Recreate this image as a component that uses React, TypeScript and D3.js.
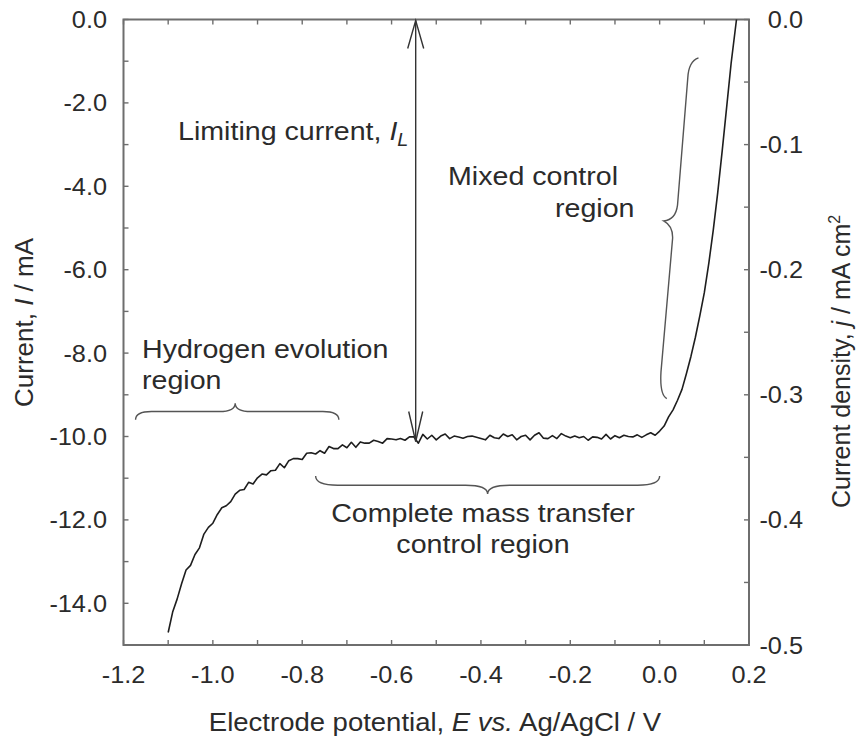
import React from "react";
import * as d3 from "d3";

// ---------- data ----------
const potential: number[] = [
  -1.10, -1.09, -1.08, -1.07, -1.06, -1.05, -1.04, -1.03, -1.02, -1.01,
  -1.00, -0.99, -0.98, -0.97, -0.96, -0.95, -0.94, -0.93, -0.92, -0.91,
  -0.90, -0.89, -0.88, -0.87, -0.86, -0.85, -0.84, -0.83, -0.82, -0.81,
  -0.80, -0.79, -0.78, -0.77, -0.76, -0.75, -0.74, -0.73, -0.72, -0.71,
  -0.70, -0.69, -0.68, -0.67, -0.66, -0.65, -0.64, -0.63, -0.62, -0.61,
  -0.60, -0.59, -0.58, -0.57, -0.56, -0.55, -0.54, -0.53, -0.52, -0.51,
  -0.50, -0.49, -0.48, -0.47, -0.46, -0.45, -0.44, -0.43, -0.42, -0.41,
  -0.40, -0.39, -0.38, -0.37, -0.36, -0.35, -0.34, -0.33, -0.32, -0.31,
  -0.30, -0.29, -0.28, -0.27, -0.26, -0.25, -0.24, -0.23, -0.22, -0.21,
  -0.20, -0.19, -0.18, -0.17, -0.16, -0.15, -0.14, -0.13, -0.12, -0.11,
  -0.10, -0.09, -0.08, -0.07, -0.06, -0.05, -0.04, -0.03, -0.02, -0.01,
  0.00, 0.01, 0.02, 0.03, 0.04, 0.05, 0.06, 0.07, 0.08, 0.09,
  0.10, 0.11, 0.12, 0.13, 0.14, 0.15, 0.16, 0.172,
];

const current: number[] = [
  -14.70, -14.24, -13.86, -13.55, -13.25, -13.06, -12.84, -12.62, -12.38, -12.20,
  -12.02, -11.90, -11.76, -11.64, -11.52, -11.44, -11.30, -11.24, -11.14, -11.09,
  -11.01, -10.96, -10.88, -10.83, -10.78, -10.70, -10.69, -10.60, -10.57, -10.51,
  -10.50, -10.43, -10.45, -10.38, -10.35, -10.34, -10.29, -10.31, -10.26, -10.24,
  -10.25, -10.19, -10.20, -10.16, -10.17, -10.12, -10.15, -10.10, -10.11, -10.08,
  -10.10, -10.05, -10.07, -10.03, -10.06, -10.02, -10.12, -10.01, -10.04, -10.00,
  -10.03, -10.01, -9.98, -10.02, -10.05, -10.00, -9.99, -10.03, -10.04, -9.98,
  -10.06, -10.02, -10.01, -10.05, -10.02, -9.99, -9.98, -10.02, -10.04, -10.01,
  -10.00, -10.03, -9.99, -9.97, -10.01, -10.04, -10.02, -9.99, -9.98, -10.01,
  -9.99, -10.02, -10.01, -10.05, -10.04, -10.02, -10.06, -10.03, -10.01, -10.04,
  -10.00, -9.99, -10.02, -10.01, -9.98, -10.00, -9.97, -9.98, -9.94, -9.95,
  -9.88, -9.72, -9.55, -9.36, -9.15, -8.85, -8.50, -8.08, -7.62, -7.10,
  -6.55, -5.85, -5.05, -4.15, -3.15, -2.10, -1.05, 0.0,
];

const jitter: number[] = [
  0.00, 0.03, -0.04, 0.02, 0.05, -0.03, 0.01, -0.05, 0.04, 0.02,
  -0.06, 0.03, 0.05, -0.02, -0.04, 0.06, 0.01, -0.03, 0.04, -0.05,
  0.02, 0.06, -0.04, 0.01, -0.03, 0.05, -0.06, 0.02, 0.04, -0.02,
  -0.05, 0.03, 0.06, -0.04, 0.01, -0.06, 0.05, 0.02, -0.03, 0.04,
  -0.02, 0.05, -0.06, 0.03, 0.01, -0.04, 0.06, -0.02, -0.05, 0.03,
  0.04, -0.03, 0.02, -0.06, 0.05, 0.01, -0.04, 0.06, -0.02, 0.03,
  -0.05, 0.02, 0.04, -0.03, 0.06, -0.01, -0.05, 0.03, 0.05, -0.04,
  0.01, -0.06, 0.04, 0.02, -0.03, 0.05, -0.02, 0.06, -0.04, 0.01,
  0.03, -0.05, 0.02, 0.06, -0.03, -0.01, 0.04, -0.06, 0.05, 0.02,
  -0.04, 0.03, -0.02, 0.05, -0.05, 0.01, 0.04, -0.03, 0.06, -0.02,
  0.02, -0.04, 0.05, 0.01, -0.03, 0.04, -0.05, 0.02, 0.03, -0.02,
  0.01, -0.03, 0.02, 0.00, 0.02, -0.02, 0.01, 0.00, 0.00, 0.00,
  0.00, 0.00, 0.00, 0.00, 0.00, 0.00, 0.00, 0.00,
];

const xTicks: number[] = [-1.2, -1.0, -0.8, -0.6, -0.4, -0.2, 0.0, 0.2];
const xTickLabels: string[] = ["-1.2", "-1.0", "-0.8", "-0.6", "-0.4", "-0.2", "0.0", "0.2"];
const yTicks: number[] = [0, -2, -4, -6, -8, -10, -12, -14];
const yTickLabels: string[] = ["0.0", "-2.0", "-4.0", "-6.0", "-8.0", "-10.0", "-12.0", "-14.0"];
const y2Ticks: number[] = [0, -0.1, -0.2, -0.3, -0.4, -0.5];
const y2TickLabels: string[] = ["0.0", "-0.1", "-0.2", "-0.3", "-0.4", "-0.5"];

// ---------- layout ----------
const W = 859;
const H = 740;
const FONT = "'Liberation Sans', Arial, Helvetica, sans-serif";
const TXT = "#2b2b2b";
const AX = "#6e6e6e";
const SX = 1.1; // horizontal stretch of the source

const x = d3.scaleLinear().domain([-1.2, 0.2]).range([123.5, 749]);
const y = d3.scaleLinear().domain([0, -15]).range([19.5, 645]);
const y2 = d3.scaleLinear().domain([0, -0.5]).range([19.5, 645]);

function SText({ x: tx, y: ty, size, anchor = "start", children }: any) {
  return (
    <g transform={`translate(${tx},${ty}) scale(${SX},1)`}>
      <text x={0} y={0} fontSize={size} textAnchor={anchor} fill={TXT} fontFamily={FONT}>
        {children}
      </text>
    </g>
  );
}

function hBrace(x1: number, x2: number, xc: number, yTip: number, yLine: number, yPeak: number, r: number) {
  return `M${x1},${yTip} Q${x1},${yLine} ${x1 + r},${yLine} L${xc - r},${yLine} Q${xc},${yLine} ${xc},${yPeak} Q${xc},${yLine} ${xc + r},${yLine} L${x2 - r},${yLine} Q${x2},${yLine} ${x2},${yTip}`;
}

export default function App() {
  const pts = potential.map((p, i) => [p, current[i] + jitter[i]] as [number, number]);
  const line = d3
    .line<[number, number]>()
    .x((d) => x(d[0]))
    .y((d) => y(d[1]));

  const minorX = d3.range(-12, 3).map((v) => v / 10);
  const minorY = d3.range(0, 16).map((v) => -v);
  const minorY2 = d3.range(0, 11).map((v) => -v * 0.05);

  const xl = x(-1.2), xr = x(0.2), yt = y(0), yb = y(-15);

  const xa = x(-0.546);
  const aTop = y(0) + 1;
  const aBot = y(-10.12);

  const hyd = hBrace(x(-1.173), x(-0.718), x(-0.95), y(-9.6), y(-9.4), y(-9.2), 16);
  const mass = hBrace(x(-0.77), x(0.0), x(-0.385), y(-10.95), y(-11.17), y(-11.38), 22);
  const mixed = `M${x(0.087)},${y(-0.92)} Q${x(0.065)},${y(-1.0)} ${x(0.063)},${y(-1.4)} L${x(0.04)},${y(-4.45)} Q${x(0.036)},${y(-4.8)} ${x(0.009)},${y(-4.83)} Q${x(0.03)},${y(-4.95)} ${x(0.029)},${y(-5.25)} L${x(0.003)},${y(-8.45)} Q${x(0.0)},${y(-9.0)} ${x(0.016)},${y(-9.09)}`;

  return (
    <svg width={W} height={H} style={{ position: "absolute", left: 0, top: 0, background: "#fff" }}>
      <rect x={0} y={0} width={W} height={H} fill="#fff" />

      {minorX.map((v, i) => (
        <g key={`tx${i}`}>
          <line x1={x(v)} x2={x(v)} y1={yb} y2={yb - 5} stroke={AX} strokeWidth={1.4} />
          <line x1={x(v)} x2={x(v)} y1={yt} y2={yt + 5} stroke={AX} strokeWidth={1.4} />
        </g>
      ))}
      {minorY.map((v, i) => (
        <line key={`ty${i}`} x1={xl} x2={xl + 5} y1={y(v)} y2={y(v)} stroke={AX} strokeWidth={1.4} />
      ))}
      {minorY2.map((v, i) => (
        <line key={`ty2${i}`} x1={xr} x2={xr - 5} y1={y2(v)} y2={y2(v)} stroke={AX} strokeWidth={1.4} />
      ))}

      <rect x={xl} y={yt} width={xr - xl} height={yb - yt} fill="none" stroke={AX} strokeWidth={2} />

      {xTicks.map((v, i) => (
        <SText key={`xl${i}`} x={x(v)} y={683} size={23} anchor="middle">{xTickLabels[i]}</SText>
      ))}
      {yTicks.map((v, i) => (
        <SText key={`yl${i}`} x={107} y={y(v) + 8.5} size={23} anchor="end">{yTickLabels[i]}</SText>
      ))}
      {y2Ticks.map((v, i) => (
        <SText key={`y2l${i}`} x={803} y={y2(v) + 8.5} size={23} anchor="end">{y2TickLabels[i]}</SText>
      ))}

      <SText x={435} y={731} size={25} anchor="middle">
        Electrode potential, <tspan fontStyle="italic">E vs.</tspan> Ag/AgCl / V
      </SText>
      <text transform={`translate(33,407) rotate(-90)`} fontSize={26} fill={TXT} fontFamily={FONT}>
        Current, <tspan fontStyle="italic">I</tspan> / mA
      </text>
      <text transform={`translate(850,508) rotate(-90)`} fontSize={25} fill={TXT} fontFamily={FONT}>
        Current density, <tspan fontStyle="italic">j</tspan> / mA cm
        <tspan dy={-10} fontSize={16}>2</tspan>
      </text>

      <path d={line(pts) || ""} fill="none" stroke="#1e1e1e" strokeWidth={1.6} strokeLinejoin="round" />

      <line x1={xa} x2={xa} y1={aTop} y2={aBot} stroke="#333" strokeWidth={1.4} />
      <polyline points={`${xa - 8},${aTop + 28} ${xa},${aTop} ${xa + 8},${aTop + 28}`} fill="none" stroke="#333" strokeWidth={1.4} />
      <polyline points={`${xa - 7},${aBot - 30} ${xa},${aBot} ${xa + 7},${aBot - 30}`} fill="none" stroke="#333" strokeWidth={1.4} />

      <path d={hyd} fill="none" stroke="#555" strokeWidth={1.4} />
      <path d={mass} fill="none" stroke="#555" strokeWidth={1.4} />
      <path d={mixed} fill="none" stroke="#555" strokeWidth={1.4} />

      <SText x={178} y={140} size={26}>
        Limiting current, <tspan fontStyle="italic">I</tspan>
        <tspan fontStyle="italic" dy={6} fontSize={18}>L</tspan>
      </SText>
      <SText x={448} y={185} size={26}>Mixed control</SText>
      <SText x={555} y={217} size={26}>region</SText>
      <SText x={142} y={358} size={26}>Hydrogen evolution</SText>
      <SText x={142} y={389} size={26}>region</SText>
      <SText x={483} y={522} size={26} anchor="middle">Complete mass transfer</SText>
      <SText x={483} y={553} size={26} anchor="middle">control region</SText>
    </svg>
  );
}
